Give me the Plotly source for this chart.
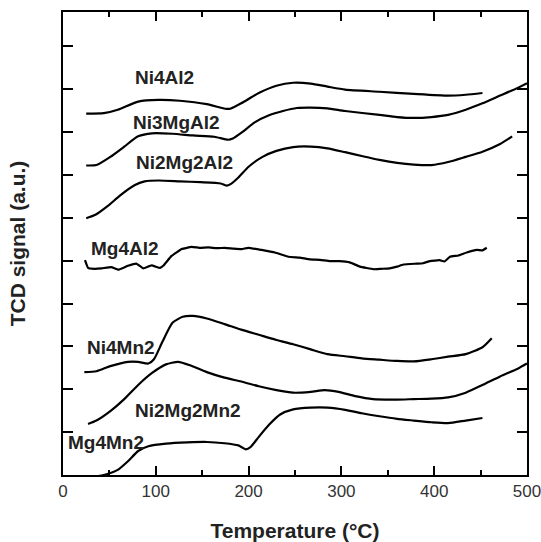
import plotly.graph_objects as go

# ---- data (temperature in °C, signal in arbitrary units with offsets) ----
ni4al2_x = [25, 44, 59, 81, 103, 126, 155, 176, 181, 192, 211, 230, 248, 267, 285, 304, 341, 378, 415, 434, 452]
ni4al2_y = [8.43, 8.44, 8.52, 8.71, 8.75, 8.73, 8.65, 8.54, 8.55, 8.67, 8.91, 9.08, 9.15, 9.13, 9.06, 8.99, 8.94, 8.89, 8.85, 8.87, 8.91]

ni3mgal2_x = [25, 36, 51, 66, 81, 96, 118, 140, 163, 178, 183, 192, 207, 222, 237, 252, 267, 285, 304, 341, 360, 378, 397, 415, 434, 452, 471, 490, 500]
ni3mgal2_y = [7.22, 7.23, 7.42, 7.66, 7.90, 7.97, 7.96, 7.92, 7.89, 7.82, 7.85, 7.98, 8.23, 8.39, 8.49, 8.56, 8.57, 8.55, 8.49, 8.40, 8.35, 8.33, 8.35, 8.40, 8.52, 8.67, 8.85, 9.03, 9.14]

ni2mg2al2_x = [25, 35, 48, 62, 77, 88, 103, 126, 148, 170, 176, 181, 189, 200, 215, 230, 248, 267, 285, 304, 322, 341, 360, 378, 397, 415, 434, 452, 471, 484]
ni2mg2al2_y = [5.99, 6.07, 6.27, 6.53, 6.76, 6.85, 6.87, 6.85, 6.83, 6.80, 6.75, 6.79, 6.94, 7.19, 7.42, 7.56, 7.65, 7.66, 7.62, 7.53, 7.44, 7.35, 7.28, 7.24, 7.23, 7.30, 7.42, 7.54, 7.72, 7.90]

mg4al2_x = [23.7, 27, 34, 41.7, 52, 59.6, 70, 79, 86.5, 95.5, 104.5, 108, 117, 128, 138.7, 147, 156.6, 166, 174.6, 184, 192.6, 199.7, 214, 228.4, 242.8,
            255, 266, 277, 287.7, 298, 309, 320, 334.4, 343, 352, 360, 366.7, 381, 388, 395.5, 406, 411, 417, 426, 435, 446, 452, 456.6]
mg4al2_y = [5.01, 4.83, 4.81, 4.82, 4.85, 4.79, 4.88, 4.93, 4.82, 4.89, 4.83, 4.88, 5.11, 5.27, 5.32, 5.30, 5.31, 5.29, 5.30, 5.28, 5.27, 5.30, 5.25, 5.19, 5.09,
            5.07, 5.03, 5.02, 4.99, 4.99, 4.96, 4.86, 4.80, 4.81, 4.82, 4.86, 4.91, 4.93, 4.94, 4.99, 5.01, 4.98, 5.09, 5.12, 5.19, 5.25, 5.24, 5.30]

ni4mn2_x = [23, 36, 51, 70, 81, 92, 98, 107, 118, 129, 140, 155, 174, 192, 211, 230, 248, 267, 285, 304, 322, 341, 360, 378, 397, 415, 434, 452, 462]
ni4mn2_y = [2.40, 2.42, 2.54, 2.64, 2.64, 2.60, 2.70, 3.10, 3.55, 3.69, 3.71, 3.65, 3.52, 3.39, 3.27, 3.15, 3.05, 2.93, 2.82, 2.77, 2.72, 2.69, 2.66, 2.65, 2.70, 2.76, 2.82, 2.98, 3.19]

ni2mg2mn2_x = [27, 36, 51, 66, 81, 96, 111, 124, 137, 155, 174, 192, 211, 230, 248, 267, 282, 297, 315, 334, 360, 378, 397, 415, 434, 452, 471, 490, 500]
ni2mg2mn2_y = [1.19, 1.27, 1.49, 1.77, 2.10, 2.38, 2.58, 2.64, 2.56, 2.40, 2.27, 2.18, 2.07, 1.98, 1.92, 1.94, 1.98, 1.94, 1.84, 1.77, 1.76, 1.77, 1.78, 1.81, 1.92, 2.10, 2.30, 2.48, 2.60]

mg4mn2_x = [33, 44, 59, 70, 81, 92, 111, 134, 155, 174, 189, 197, 202, 211, 222, 234, 248, 267, 285, 304, 322, 341, 360, 378, 397, 415, 434, 452]
mg4mn2_y = [-0.04, 0.00, 0.12, 0.32, 0.56, 0.67, 0.73, 0.76, 0.77, 0.74, 0.69, 0.60, 0.65, 0.89, 1.17, 1.41, 1.53, 1.57, 1.57, 1.52, 1.44, 1.37, 1.31, 1.27, 1.23, 1.21, 1.27, 1.33]

labels = ["Ni4Al2", "Ni3MgAl2", "Ni2Mg2Al2", "Mg4Al2", "Ni4Mn2", "Ni2Mg2Mn2", "Mg4Mn2"]
label_x = [109, 122, 131, 67, 62, 135, 46]
label_y = [9.27, 8.23, 7.28, 5.28, 2.98, 1.51, 0.75]

series = [
    (ni4al2_x, ni4al2_y), (ni3mgal2_x, ni3mgal2_y), (ni2mg2al2_x, ni2mg2al2_y),
    (mg4al2_x, mg4al2_y), (ni4mn2_x, ni4mn2_y), (ni2mg2mn2_x, ni2mg2mn2_y),
    (mg4mn2_x, mg4mn2_y),
]

FONT = "Arial, 'Liberation Sans', Helvetica, sans-serif"

fig = go.Figure()
for (xs, ys), name in zip(series, labels):
    smooth = 0.3 if name == "Mg4Al2" else 0.6
    fig.add_trace(go.Scatter(x=xs, y=ys, mode="lines", name=name,
                             line=dict(color="black", width=2.2, shape="spline", smoothing=smooth),
                             showlegend=False, hoverinfo="skip"))

# invisible trace to anchor the top (mirror) axis
fig.add_trace(go.Scatter(x=[0, 500], y=[None, None], xaxis="x2", mode="lines",
                         showlegend=False, hoverinfo="skip"))

for t, lx, ly in zip(labels, label_x, label_y):
    fig.add_annotation(x=lx, y=ly, text=f"<b>{t}</b>", showarrow=False,
                       font=dict(family=FONT, size=19, color="#222"))

fig.update_layout(
    width=541, height=542,
    margin=dict(l=63, r=14, t=12, b=67),
    paper_bgcolor="white", plot_bgcolor="white",
    font=dict(family=FONT, color="#333"),
    xaxis2=dict(
        overlaying="x", side="top", anchor="y", range=[0, 500],
        tickmode="linear", tick0=0, dtick=100, automargin=False,
        ticks="inside", ticklen=9, tickwidth=1.5, tickcolor="black",
        showticklabels=False, showgrid=False, zeroline=False, showline=False,
        minor=dict(ticks="inside", ticklen=5, tickwidth=1.5, tickcolor="black", dtick=50, tick0=0, showgrid=False),
    ),
)
fig.layout.xaxis.update(
    range=[0, 500], tickmode="linear", tick0=0, dtick=100, automargin=False,
    ticks="inside", ticklen=9, tickwidth=1.5, tickcolor="black",
    showline=True, linewidth=2, linecolor="black", mirror=True,
    showgrid=False, zeroline=False, ticklabeloverflow="allow",
    tickfont=dict(family=FONT, size=17, color="#333"),
    minor=dict(ticks="inside", ticklen=5, tickwidth=1.5, tickcolor="black", dtick=50, tick0=0, showgrid=False),
    title=dict(text="<b>Temperature (°C)</b>", font=dict(family=FONT, size=21, color="#222"), standoff=31),
)
fig.update_yaxes(
    range=[0, 10.8], tickmode="linear", tick0=0, dtick=1, automargin=False,
    ticks="inside", ticklen=10, tickwidth=1.5, tickcolor="black",
    showline=True, linewidth=2, linecolor="black", mirror="ticks",
    showgrid=False, zeroline=False, showticklabels=False,
    title=dict(text="<b>TCD signal (a.u.)</b>", font=dict(family=FONT, size=21, color="#222"), standoff=30),
)

fig.write_html("out.html")
